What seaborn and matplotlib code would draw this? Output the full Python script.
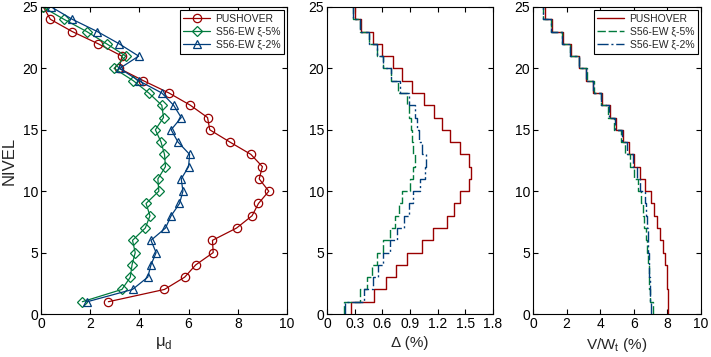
import numpy as np
import matplotlib
matplotlib.use('Agg')
import matplotlib.pyplot as plt
import seaborn as sns

# niveles del edificio
niveles = list(range(1, 26))

# ductilidad de entrepiso mu_d (nivel 1 a 25)
mu_pushover = [2.74, 5.02, 5.84, 6.29, 7.0, 6.97, 7.95, 8.58, 8.84, 9.26, 8.87, 9.0, 8.53,
               7.68, 6.86, 6.77, 6.07, 5.2, 4.16, 3.18, 3.29, 2.33, 1.27, 0.38, 0.1]
mu_xi5 = [1.68, 3.29, 3.63, 3.70, 3.83, 3.72, 4.24, 4.43, 4.27, 4.79, 4.75, 5.06, 5.02,
          4.88, 4.65, 4.98, 4.91, 4.38, 3.75, 2.97, 3.45, 2.67, 1.86, 0.93, 0.07]
mu_xi2 = [1.88, 3.72, 4.34, 4.47, 4.68, 4.47, 5.06, 5.29, 5.63, 5.77, 5.70, 6.0, 6.04,
          5.57, 5.29, 5.70, 5.39, 4.91, 3.97, 3.2, 3.97, 3.18, 2.29, 1.27, 0.42]

# deriva de entrepiso (%) por piso 1 a 25
deriva_pushover = [0.255, 0.512, 0.639, 0.748, 0.871, 1.027, 1.153, 1.299, 1.382, 1.444,
                   1.535, 1.564, 1.535, 1.444, 1.335, 1.251, 1.161, 1.056, 0.925, 0.81,
                   0.711, 0.599, 0.494, 0.374, 0.30]
deriva_xi5 = [0.185, 0.356, 0.435, 0.483, 0.537, 0.61, 0.682, 0.737, 0.78, 0.816,
              0.9, 0.936, 0.954, 0.936, 0.925, 0.907, 0.892, 0.864, 0.773, 0.69,
              0.61, 0.544, 0.457, 0.363, 0.283]
deriva_xi2 = [0.193, 0.403, 0.494, 0.555, 0.61, 0.682, 0.755, 0.835, 0.889, 0.936,
              1.009, 1.063, 1.071, 1.034, 0.998, 0.973, 0.954, 0.892, 0.791, 0.69,
              0.61, 0.544, 0.457, 0.363, 0.283]

# cortante de entrepiso V/Wt (%) por piso 1 a 25
cortante_pushover = [8.05, 8.05, 8.0, 7.95, 7.85, 7.72, 7.57, 7.36, 7.19, 7.0,
                     6.65, 6.36, 6.04, 5.74, 5.35, 4.95, 4.6, 4.12, 3.6, 3.13,
                     2.73, 2.28, 1.78, 1.15, 0.69]
cortante_xi5 = [7.13, 6.97, 6.93, 6.88, 6.83, 6.8, 6.73, 6.63, 6.55, 6.43,
                6.24, 5.99, 5.8, 5.49, 5.23, 4.81, 4.45, 4.06, 3.66, 3.2,
                2.73, 2.22, 1.72, 1.1, 0.6]
cortante_xi2 = [7.03, 6.97, 6.95, 6.9, 6.88, 6.85, 6.83, 6.8, 6.73, 6.67,
                6.34, 6.18, 5.94, 5.6, 5.27, 4.87, 4.52, 4.06, 3.55, 3.13,
                2.73, 2.22, 1.72, 1.1, 0.6]

etiquetas = ['PUSHOVER', 'S56-EW ξ-5%', 'S56-EW ξ-2%']
colores = ['#990000', '#007a3d', '#003d7a']
marcadores = ['o', 'D', '^']
lineas = ['-', (0, (6, 2)), (0, (8, 2, 1.5, 2))]

sns.set_style('ticks')
plt.rcParams['font.family'] = ['Liberation Sans', 'DejaVu Sans']
plt.rcParams['mathtext.fontset'] = 'custom'
plt.rcParams['mathtext.rm'] = 'Liberation Sans'


def escalon(valores):
    # cada piso i ocupa el tramo vertical entre el nivel i-1 y el nivel i
    x = np.repeat(valores, 2)
    y = np.repeat(np.arange(len(valores) + 1), 2)[1:-1]
    return x, y


def formato(ax, xlim, xticks, xticklabels=None):
    ax.set_xlim(xlim)
    ax.set_ylim(0, 25)
    ax.set_xticks(xticks)
    if xticklabels is not None:
        ax.set_xticklabels(xticklabels)
    ax.set_yticks(range(0, 26, 5))
    ax.tick_params(direction='in', top=True, right=True, length=3.5, width=0.8,
                   labelsize=10, pad=2, colors='black')
    for s in ax.spines.values():
        s.set_visible(True)
        s.set_linewidth(0.8)
        s.set_color('black')


def leyenda(ax):
    ax.legend(loc='upper right', fontsize=7.5, frameon=True, fancybox=False,
              edgecolor='black', framealpha=1, borderaxespad=0.3, handlelength=2.6,
              handletextpad=0.5, labelspacing=0.3, borderpad=0.35)
    ax.get_legend().get_frame().set_linewidth(0.8)


fig = plt.figure(figsize=(7.11, 3.57), dpi=100)
ax1 = fig.add_axes([41 / 711, 43 / 357, 246 / 711, 307 / 357])
ax2 = fig.add_axes([327 / 711, 43 / 357, 166 / 711, 307 / 357])
ax3 = fig.add_axes([533 / 711, 43 / 357, 168 / 711, 307 / 357])

# panel 1: ductilidad
for vals, lab, c, m in zip([mu_pushover, mu_xi5, mu_xi2], etiquetas, colores, marcadores):
    sns.lineplot(x=vals, y=niveles, sort=False, estimator=None, ax=ax1, color=c,
                 linewidth=0.9, marker=m, markersize=6 if m != 'D' else 5.5,
                 markerfacecolor='none', markeredgecolor=c, markeredgewidth=0.9,
                 label=lab)
formato(ax1, (0, 10), range(0, 11, 2))
ax1.set_ylabel('NIVEL', fontsize=12, labelpad=4)
ax1.set_xlabel('μ$_\\mathregular{d}$', fontsize=12, labelpad=3)
leyenda(ax1)

# panel 2: deriva
for vals, c, ls in zip([deriva_pushover, deriva_xi5, deriva_xi2], colores, lineas):
    xs, ys = escalon(vals)
    sns.lineplot(x=xs, y=ys, sort=False, estimator=None, ax=ax2, color=c,
                 linewidth=1.0, linestyle=ls)
formato(ax2, (0, 1.8), np.arange(0, 1.81, 0.3),
        ['0', '0.3', '0.6', '0.9', '1.2', '1.5', '1.8'])
ax2.set_xlabel('Δ (%)', fontsize=11, labelpad=4)
ax2.set_ylabel('')

# panel 3: cortante
for vals, lab, c, ls in zip([cortante_pushover, cortante_xi5, cortante_xi2], etiquetas, colores, lineas):
    xs, ys = escalon(vals)
    sns.lineplot(x=xs, y=ys, sort=False, estimator=None, ax=ax3, color=c,
                 linewidth=1.0, linestyle=ls, label=lab)
formato(ax3, (0, 10), range(0, 11, 2))
ax3.set_xlabel('V/W$_\\mathregular{t}$ (%)', fontsize=11, labelpad=4)
ax3.set_ylabel('')
leyenda(ax3)

fig.savefig('out.png', dpi=100)
